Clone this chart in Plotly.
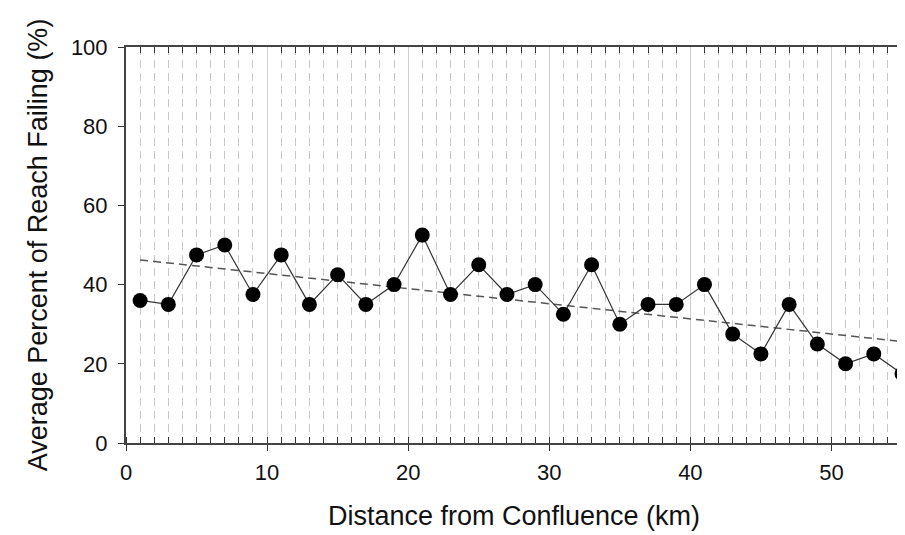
import numpy as np
import plotly.graph_objects as go

distance_km = [1, 3, 5, 7, 9, 11, 13, 15, 17, 19, 21, 23, 25, 27,
               29, 31, 33, 35, 37, 39, 41, 43, 45, 47, 49, 51, 53, 55]
pct_failing = [36, 35, 47.5, 50, 37.5, 47.5, 35, 42.5, 35, 40, 52.5, 37.5, 45, 37.5,
               40, 32.5, 45, 30, 35, 35, 40, 27.5, 22.5, 35, 25, 20, 22.5, 17.5]

x_tickvals = [0, 10, 20, 30, 40, 50]
y_tickvals = [0, 20, 40, 60, 80, 100]

slope, intercept = np.polyfit(distance_km, pct_failing, 1)
trend_x = [distance_km[0], distance_km[-1]]
trend_y = [slope * v + intercept for v in trend_x]

fig = go.Figure()
fig.add_trace(go.Scatter(
    x=trend_x, y=trend_y, mode="lines",
    line=dict(color="#555555", width=1.5, dash="8px,5px"),
    hoverinfo="skip", showlegend=False))
fig.add_trace(go.Scatter(
    x=distance_km, y=pct_failing, mode="lines+markers",
    line=dict(color="#333333", width=1.2),
    marker=dict(color="black", size=15, line=dict(color="black", width=0)),
    showlegend=False, cliponaxis=False))
fig.add_trace(go.Scatter(x=[0], y=[0], xaxis="x2", mode="markers",
                         marker=dict(opacity=0), hoverinfo="skip", showlegend=False))

axis_font = dict(family="Liberation Sans, Arial, sans-serif", size=22, color="#111111")

fig.update_layout(
    width=897, height=527,
    margin=dict(l=118, r=3, t=39, b=92, autoexpand=False),
    paper_bgcolor="white", plot_bgcolor="white",
    font=axis_font,
    xaxis=dict(
        range=[0, 55], tickvals=x_tickvals, ticks="outside", ticklen=6,
        tickcolor="#333333", tickwidth=1, automargin=False, ticklabelstandoff=3,
        showline=True, linecolor="#444444", linewidth=2, mirror=True,
        showgrid=True, gridcolor="#d0d0d0", gridwidth=1,
        minor=dict(dtick=1, tick0=0, showgrid=True, gridcolor="#c8c8c8",
                   griddash="8px,5px", gridwidth=1, ticks="inside",
                   ticklen=6, tickcolor="#333333"),
        zeroline=False,
        title=dict(text="Distance from Confluence (km)", font=dict(size=27), standoff=22),
        tickfont=dict(size=22),
    ),
    xaxis2=dict(
        overlaying="x", side="top", range=[0, 55], matches="x",
        showticklabels=False, ticks="", showgrid=False, zeroline=False,
        minor=dict(dtick=1, tick0=0, ticks="inside", ticklen=6,
                   tickcolor="#333333", showgrid=False),
    ),
    yaxis=dict(
        range=[0, 100], tickvals=y_tickvals, ticks="outside", ticklen=6,
        tickcolor="#333333", automargin=False, ticklabelstandoff=6,
        showline=True, linecolor="#444444", linewidth=2,
        showgrid=False, zeroline=False,
        title=dict(text="Average Percent of Reach Failing (%)", font=dict(size=27), standoff=15),
        tickfont=dict(size=22),
    ),
)

fig.write_html("out.html")
